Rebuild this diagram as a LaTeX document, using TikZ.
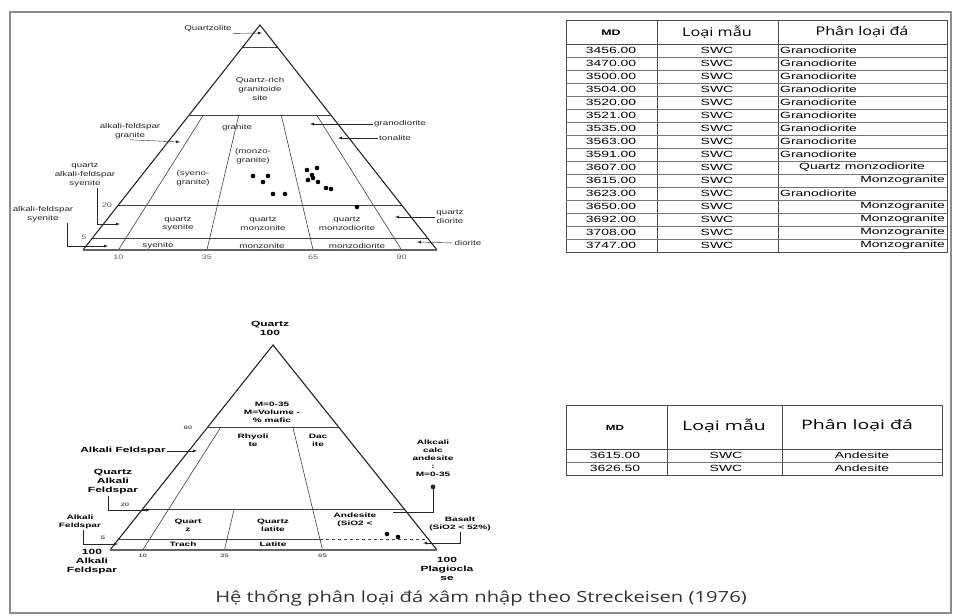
\documentclass[tikz,border=0pt]{standalone}
\usepackage{fontspec}
\usepackage{tikz}
\usetikzlibrary{arrows,calc,positioning}
\newfontfamily\rowfont[FakeStretch=1.55]{Liberation Sans}
\newfontfamily\headfont[FakeStretch=1.35]{Open Sans}
\newfontfamily\headfontb[FakeStretch=1.5]{Open Sans}
\newfontfamily\trifont[FakeStretch=1.4]{Liberation Sans}
\newfontfamily\btrifont[FakeStretch=1.6]{Liberation Sans}
\newfontfamily\capfont[FakeStretch=1.32]{Open Sans}

\begin{document}
\begin{tikzpicture}[x=1pt,y=-1pt]
\tikzstyle{lbl}=[font=\trifont\fontsize{7}{8.7}\selectfont, align=center, inner sep=1pt, text=black!85]
\tikzstyle{blbl}=[font=\btrifont\bfseries\fontsize{7.5}{9}\selectfont, align=center, inner sep=1pt]
\tikzstyle{slbl}=[font=\btrifont\bfseries\fontsize{6.3}{8}\selectfont, align=center, inner sep=1pt]
\tikzstyle{tick}=[font=\trifont\fontsize{6.5}{7}\selectfont, text=black!60, inner sep=0.5pt]
\tikzstyle{btick}=[font=\btrifont\bfseries\fontsize{5}{6}\selectfont, text=black!60, inner sep=0.5pt]
\tikzstyle{connect}=[-latex, thin, black!85]
\tikzstyle{rim}=[line width=1.1pt, black!85]
\tikzstyle{div}=[black!75, line width=0.6pt]
\tikzstyle{smp}=[circle, fill=black, inner sep=0pt, minimum size=4.6pt]
\tikzstyle{cell}=[font=\rowfont\fontsize{9}{10}\selectfont, inner sep=1pt]
\tikzstyle{mdhead}=[font=\rowfont\bfseries\fontsize{8}{9}\selectfont, inner sep=1pt]
\tikzstyle{thead}=[font=\headfont\fontsize{12}{14}\selectfont, inner sep=1pt]
\tikzstyle{theadb}=[font=\headfontb\fontsize{13}{15}\selectfont, inner sep=1pt]
\tikzstyle{tabline}=[black!70, line width=0.6pt]
\useasboundingbox (0,0) rectangle (954,616);
\draw[black!45, line width=1.6pt] (10,12) rectangle (951,613);

% upper diagram
\coordinate (A1) at (83,250);
\coordinate (P1) at (437,250);
\coordinate (Q1) at (260,25);
\foreach \q in {.9,.6,.2,.05}
  \draw[div] ($(A1)!\q!(Q1)$) -- ($(P1)!\q!(Q1)$);
\foreach \r/\n in {.10/a,.35/b,.65/c,.90/d}{
  \coordinate (u\n0) at ($(A1)!\r!(P1)$);
  \coordinate (u\n6) at ($(u\n0)!.6!(Q1)$);
  \draw[div] (u\n0) -- (u\n6);
}
\draw[rim] (A1) -- (Q1) -- (P1);
\draw[rim, line width=1.6pt, black!60] (A1) -- (P1);

\node[lbl] (qzl) at (208,29) {Quartzolite};
\coordinate (qzltip) at (262,33);
\draw[connect] (qzl.south east) -- (qzltip);
\node[lbl] (qrg) at (260,89) {Quartz-rich\\granitoide\\site};
\node[lbl] (afg) at (130,131) {alkali-feldspar\\granite};
\coordinate (afgtip) at (180,142);
\draw[connect] (afg.south) -- (afgtip);
\node[lbl] (gdr) at (400,124) {granodiorite};
\coordinate (gdrtip) at (310,124);
\draw[connect] (gdr.west) -- (gdrtip);
\node[lbl] (ton) at (395,138) {tonalite};
\coordinate (tontip) at (338,138);
\draw[connect] (ton.west) -- (tontip);
\node[lbl] (gra) at (237,128) {granite};
\node[lbl] (mzg) at (253,156) {(monzo-\\granite)};
\node[lbl] (syg) at (193,178) {(syeno-\\granite)};
\node[lbl] (qafs) at (85,175) {quartz\\alkali-feldspar\\syenite};
\coordinate (qafstip) at (120,224);
\draw[connect] ([xshift=12pt]qafs.south) |- (qafstip);
\node[lbl] (afs) at (43,214) {alkali-feldspar\\syenite};
\coordinate (afstip) at (108,246);
\draw[connect] ([xshift=24pt]afs.south) |- (afstip);
\node[lbl] (qsy) at (178,224) {quartz\\syenite};
\node[lbl] (qmz) at (263,224) {quartz\\monzonite};
\node[lbl] (qmd) at (347,224) {quartz\\monzodiorite};
\node[lbl] (sye) at (158,246) {syenite};
\node[lbl] (mzn) at (262,246) {monzonite};
\node[lbl] (mzd) at (357,246) {monzodiorite};
\node[lbl] (qdi) at (450,217) {quartz\\diorite};
\coordinate (qditip) at (395,217);
\draw[connect] (qdi.west) -- (qditip);
\node[lbl] (dio) at (468,243) {diorite};
\coordinate (diotip) at (417,242);
\draw[connect] (dio.west) -- (diotip);
\node[tick] (t20) at (107,205) {20};
\node[tick] (t5) at (84,237) {5};
\node[tick, below=4pt of ua0] (t10) {10};
\node[tick, below=4pt of ub0] (t35) {35};
\node[tick, below=4pt of uc0] (t65) {65};
\node[tick, below=4pt of ud0] (t90) {90};
\foreach \x/\y [count=\i] in {253/176,263/182,268/176,273/194,285/194,
    307/170,317/168,312/175,308/180,318/182,313/178,326/188,331/189,357/207}
  \node[smp] (s\i) at (\x,\y) {};

% lower diagram
\coordinate (A2) at (110,550);
\coordinate (P2) at (437,550);
\coordinate (Q2) at (273,345);
\draw[div] ($(A2)!.6!(Q2)$) -- ($(P2)!.6!(Q2)$);
\draw[div] ($(A2)!.2!(Q2)$) -- ($(P2)!.2!(Q2)$);
\foreach \r/\n in {.10/a,.35/b,.65/c}
  \coordinate (l\n0) at ($(A2)!\r!(P2)$);
\coordinate (la6) at ($(la0)!.6!(Q2)$);
\coordinate (lb2) at ($(lb0)!.2!(Q2)$);
\coordinate (lc6) at ($(lc0)!.6!(Q2)$);
\coordinate (lc05) at ($(lc0)!.05!(Q2)$);
\draw[div] (la0) -- (la6);
\draw[div] (lb0) -- (lb2);
\draw[div] (lc0) -- (lc6);
\draw[div] ($(A2)!.05!(Q2)$) -- (lc05);
\draw[div, dashed] (lc05) -- ($(P2)!.05!(Q2)$);
\draw[rim] (A2) -- (Q2) -- (P2);
\draw[rim, line width=1.6pt, black!60] (A2) -- (P2);

\node[blbl] (qtz) at (270,328) {Quartz\\100};
\node[slbl] (mvol) at (272,412) {M=0-35\\M=Volume -\\\% mafic};
\node[btick] (t60) at (188,428) {60};
\node[slbl] (rhy) at (253,440) {Rhyoli\\te};
\node[slbl] (dac) at (318,440) {Dac\\ite};
\node[blbl] (af1) at (123,451) {Alkali Feldspar};
\coordinate (af1tip) at (197,451);
\draw[connect] (af1.east) -- (af1tip);
\node[blbl] (qaf) at (113,482) {Quartz\\Alkali\\Feldspar};
\coordinate (qaftip) at (150,510);
\draw[connect] ([xshift=-5pt]qaf.south) |- (qaftip);
\node[btick] (t20b) at (125,505) {20};
\node[slbl] (aca) at (433,458) {Alkcali\\calc\\andesite\\:\\M=0-35};
\coordinate (acatip) at (393,512);
\draw[*-, black!85] ([yshift=-7pt]aca.south) |- (acatip);
\node[slbl] (af2) at (80,522) {Alkali\\Feldspar};
\coordinate (af2tip) at (118,544);
\draw[connect] ([xshift=3pt]af2.south) |- (af2tip);
\node[btick] (t5b) at (103,538) {5};
\node[slbl] (qtr) at (188,525) {Quart\\z};
\node[slbl] (qla) at (273,525) {Quartz\\latite};
\node[slbl] (and) at (355,520) {Andesite\\(SiO2 <};
\node[slbl] (bas) at (460,524) {Basalt\\(SiO2 < 52\%)};
\coordinate (bastip) at (423,543);
\draw[connect] (bas.south) |- (bastip);
\node[slbl] (trc) at (183,544) {Trach};
\node[slbl] (lat) at (273,544) {Latite};
\node[btick, below=3pt of la0] (b10) {10};
\node[btick, below=3pt of lb0] (b35) {35};
\node[btick, below=3pt of lc0] (b65) {65};
\node[blbl] (afe) at (92,562) {100\\Alkali\\Feldspar};
\node[blbl] (plg) at (447,569) {100\\Plagiocla\\se};
\node[smp] (s21) at (387,534) {};
\node[smp] (s22) at (398,537) {};

% upper table
\draw[tabline] (566,20) rectangle (947,252);
\foreach \x in {657,778}
  \draw[tabline] (\x,20) -- (\x,252);
\draw[tabline] (566,44) -- (947,44);
\foreach \i in {1,...,15}
  \draw[tabline, black!55] (566,{44+13*\i}) -- (947,{44+13*\i});
\node[mdhead] (hmd) at (611,33) {MD};
\node[thead] (hty) at (717,32) {Loại mẫu};
\node[thead] (hcl) at (862,32) {Phân loại đá};
\foreach \i/\md/\cls/\an/\cx in {1/3456.00/Granodiorite/west/779,
    2/3470.00/Granodiorite/west/779, 3/3500.00/Granodiorite/west/779,
    4/3504.00/Granodiorite/west/779, 5/3520.00/Granodiorite/west/779,
    6/3521.00/Granodiorite/west/779, 7/3535.00/Granodiorite/west/779,
    8/3563.00/Granodiorite/west/779, 9/3591.00/Granodiorite/west/779,
    10/3607.00/Quartz monzodiorite/center/862, 11/3615.00/Monzogranite/east/946,
    12/3623.00/Granodiorite/west/779, 13/3650.00/Monzogranite/east/946,
    14/3692.00/Monzogranite/east/946, 15/3708.00/Monzogranite/east/946,
    16/3747.00/Monzogranite/east/946}{
  \node[cell] (md\i) at (611,{44+13*(\i-0.5)}) {\md};
  \node[cell] (ty\i) at (717,{44+13*(\i-0.5)}) {SWC};
  \node[cell, anchor=\an] (cl\i) at (\cx,{44+13*(\i-0.5)}) {\cls};
}

% lower table
\draw[tabline] (566,405) rectangle (942,475);
\foreach \x in {667,782}
  \draw[tabline] (\x,405) -- (\x,475);
\draw[tabline] (566,449) -- (942,449);
\draw[tabline, black!55] (566,462) -- (942,462);
\node[mdhead, font=\rowfont\bfseries\fontsize{7.5}{9}\selectfont] (kmd) at (615,428) {MD};
\node[theadb] (kty) at (724,426) {Loại mẫu};
\node[theadb] (kcl) at (857,426) {Phân loại đá};
\foreach \i/\md in {1/3615.00,2/3626.50}{
  \node[cell] (kmd\i) at (615,{449+13*(\i-0.5)}) {\md};
  \node[cell] (kty\i) at (726,{449+13*(\i-0.5)}) {SWC};
  \node[cell] (kcl\i) at (862,{449+13*(\i-0.5)}) {Andesite};
}

\node[font=\capfont\fontsize{15.3}{18}\selectfont, text=black!80] (cap) at (481,598)
  {Hệ thống phân loại đá xâm nhập theo Streckeisen (1976)};
\end{tikzpicture}
\end{document}
